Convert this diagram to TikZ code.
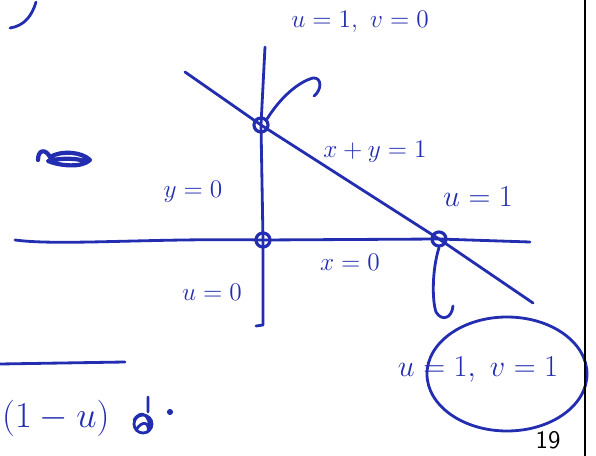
\documentclass[tikz,border=0pt]{standalone}
\usetikzlibrary{positioning}
\definecolor{pen}{RGB}{35,45,175}
\tikzset{
  pen/.style={draw=pen,line width=1.6pt,line cap=round,line join=round},
  dot/.style={circle,draw=pen,line width=1.8pt,inner sep=0pt,minimum size=8pt},
  lbl/.style={text=pen,font=\fontsize{15}{17}\selectfont,inner sep=1pt},
  biglbl/.style={lbl,font=\fontsize{19}{21}\selectfont},
}
\begin{document}
\begin{tikzpicture}[x=0.02cm,y=-0.02cm]
  \useasboundingbox (0,0) rectangle (596,456);
  % ends of the three lines
  \coordinate (xl) at (15,240);
  \coordinate (xr) at (530,242);
  \coordinate (yt) at (265,47);
  \coordinate (yb) at (263,325);
  \coordinate (dl) at (185,72);
  \coordinate (dr) at (533,303);
  % crossing points
  \node[dot] (P) at (261,125) {};
  \node[dot] (O) at (263,240) {};
  \node[dot] (Q) at (439,239) {};
  \draw[pen] (xl) .. controls (60,246) and (150,238) .. (O.center) -- (Q.center) -- (xr);
  \draw[pen] (yt) -- (P.center) -- (O.center) -- (yb) -- (256,326);
  \draw[pen] (dl) -- (P.center) -- (Q.center) -- (dr);
  % labels
  \node[lbl] (uv0) at (360,22) {$u=1,\ v=0$};
  \node[lbl] (lin) at (375,152) {$x+y=1$};
  \node[biglbl] (u1) at (478,197) {$u=1$};
  \node[lbl] (y0) at (193,192) {$y=0$};
  \node[lbl] (x0) at (350,262) {$x=0$};
  \node[lbl] (u0) at (212,292) {$u=0$};
  \node[lbl,font=\fontsize{17}{19}\selectfont] (uv1) at (478,370) {$u=1,\ v=1$};
  \draw[pen] (507,374) ellipse (80 and 57);
  % pointers
  \draw[pen] (P.north east) .. controls (280,98) and (298,82) .. (313,78)
    .. controls (322,77) and (322,90) .. (314,96);
  \draw[pen] (Q.south) .. controls (432,270) and (432,300) .. (436,312)
    .. controls (442,322) and (452,318) .. (453,306);
  % bottom left
  \draw[pen] (0,364) -- (125,362);
  \node[lbl,font=\fontsize{22}{24}\selectfont,anchor=west] (frac) at (0,418) {$(1-u)$};
  \draw[pen,line width=1.6pt] (143,424) circle (9) (134,420) .. controls (142,408) and (150,416) .. (150,430)
    (136,430) .. controls (142,420) and (150,422) .. (148,432) (148,397) -- (148,412);
  \fill[pen] (170,412) circle (1.8);
  \draw[pen,line width=2.4pt] (38,160) .. controls (38,150) and (45,148) .. (50,157)
    .. controls (62,150) and (82,152) .. (90,160) .. controls (82,168) and (60,166) .. (48,161)
    .. controls (60,158) and (75,158) .. (85,161);
  \draw[pen] (36,2) .. controls (32,16) and (24,26) .. (10,28);
  % page edge and number
  \draw[line width=1.2pt] (585,0) -- (585,456);
  \node[font=\sffamily\Large] (pg) at (548,440) {19};
\end{tikzpicture}
\end{document}
